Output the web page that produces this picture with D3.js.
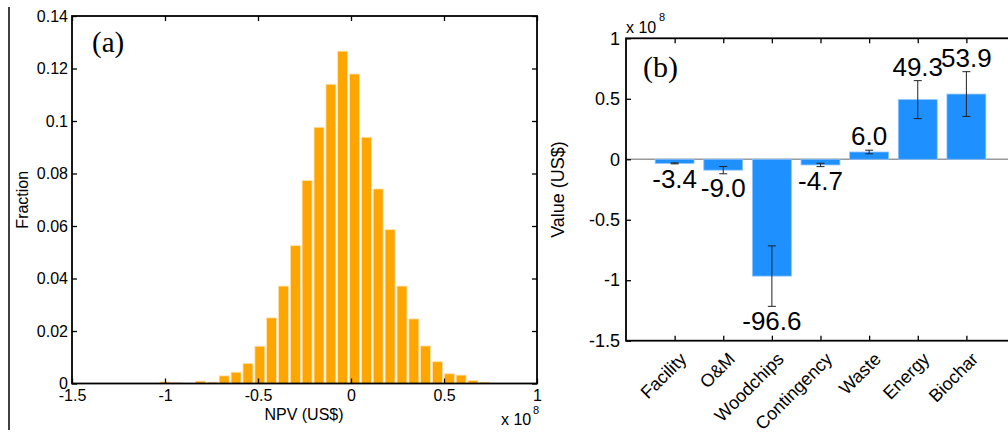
<!DOCTYPE html>
<html>
<head>
<meta charset="utf-8">
<script src="https://cdn.jsdelivr.net/npm/d3@7"></script>
<style>
  body { margin: 0; background: #fff; }
  svg { display: block; }
  text { font-family: "Liberation Sans", Arial, sans-serif; fill: #000; }
</style>
</head>
<body>
<svg id="chart" width="1008" height="434"></svg>
<script>
// (a) NPV histogram: bin centres in units of 1e8 US$, fraction of runs per bin
const npvBins = [-1.000, -0.936, -0.873, -0.809, -0.745, -0.682, -0.618, -0.554, -0.490, -0.427,
                 -0.363, -0.299, -0.236, -0.172, -0.108, -0.045, 0.019, 0.083, 0.146, 0.210,
                 0.274, 0.338, 0.401, 0.465, 0.529, 0.592, 0.656, 0.720];
const npvFraction = [0.0006, 0.0004, 0, 0.0009, 0.0005, 0.0029, 0.0043, 0.0076, 0.0142, 0.0250,
                     0.0371, 0.0525, 0.0773, 0.0976, 0.1140, 0.1266, 0.1179, 0.0938, 0.0741, 0.0586,
                     0.0371, 0.0246, 0.0143, 0.0083, 0.0037, 0.0032, 0.0011, 0.0005];
const binWidth = 0.0637;
const npvTicks = [-1.5, -1, -0.5, 0, 0.5, 1];
const fracTicks = [0, 0.02, 0.04, 0.06, 0.08, 0.1, 0.12, 0.14];

// (b) NPV components, millions of US$, with error bar half-lengths
const components = ['Facility', 'O&M', 'Woodchips', 'Contingency', 'Waste', 'Energy', 'Biochar'];
const compValues = [-3.4, -9.0, -96.6, -4.7, 6.0, 49.3, 53.9];
const compErrors = [0.4, 3.0, 25.0, 1.4, 1.5, 15.7, 18.5];
const valueTicks = [-1.5, -1, -0.5, 0, 0.5, 1];

const svg = d3.select('#chart');
svg.append('rect').attr('width', 1008).attr('height', 434).attr('fill', '#fff');

// stray panel separator on the far left
svg.append('line')
    .attr('x1', 9).attr('x2', 9).attr('y1', 7).attr('y2', 430)
    .attr('stroke', '#000').attr('stroke-width', 1.5);

const fmt = d => String(d);

function styleAxis(size) {
    return g => {
        g.select('.domain').remove();
        g.selectAll('line').attr('stroke', '#000').attr('stroke-width', 1.3);
        g.selectAll('text').attr('font-size', size).attr('font-family', '"Liberation Sans", Arial, sans-serif').attr('fill', '#000');
    };
}

// ---------- panel (a) ----------
const xa = d3.scaleLinear().domain([-1.5, 1]).range([72, 537]);
const ya = d3.scaleLinear().domain([0, 0.14]).range([383.5, 16]);
const ga = svg.append('g');

ga.append('g')
    .selectAll('rect')
    .data(npvBins.map((c, i) => ({ c, v: npvFraction[i] })).filter(d => d.v > 0))
    .join('rect')
    .attr('x', d => xa(d.c - binWidth * 0.42))
    .attr('width', d => xa(d.c + binWidth * 0.42) - xa(d.c - binWidth * 0.42))
    .attr('y', d => ya(d.v))
    .attr('height', d => ya(0) - ya(d.v))
    .attr('fill', '#FFA500')
    .attr('stroke', '#ffe2b0')
    .attr('stroke-width', 0.8);

ga.append('g').attr('transform', `translate(0,${ya(0)})`)
    .call(d3.axisBottom(xa).tickValues(npvTicks).tickFormat(fmt).tickSize(-5).tickPadding(6))
    .call(styleAxis(16));
ga.append('g').attr('transform', `translate(0,${ya(0.14)})`)
    .call(d3.axisTop(xa).tickValues(npvTicks).tickFormat('').tickSize(-5))
    .call(styleAxis(16));
ga.append('g').attr('transform', `translate(${xa(-1.5)},0)`)
    .call(d3.axisLeft(ya).tickValues(fracTicks).tickFormat(fmt).tickSize(-5).tickPadding(4))
    .call(styleAxis(16));
ga.append('g').attr('transform', `translate(${xa(1)},0)`)
    .call(d3.axisRight(ya).tickValues(fracTicks).tickFormat('').tickSize(-5))
    .call(styleAxis(16));

ga.append('rect')
    .attr('x', xa(-1.5)).attr('y', ya(0.14))
    .attr('width', xa(1) - xa(-1.5)).attr('height', ya(0) - ya(0.14))
    .attr('fill', 'none').attr('stroke', '#000').attr('stroke-width', 1.8);

ga.append('text')
    .attr('x', 304).attr('y', 420)
    .attr('text-anchor', 'middle').attr('font-size', 16)
    .text('NPV (US$)');
ga.append('text')
    .attr('transform', `translate(28,${(ya(0) + ya(0.14)) / 2}) rotate(-90)`)
    .attr('text-anchor', 'middle').attr('font-size', 16)
    .text('Fraction');
ga.append('text').attr('x', 501).attr('y', 425).attr('font-size', 16).text('x 10');
ga.append('text').attr('x', 533).attr('y', 414).attr('font-size', 11).text('8');
ga.append('text')
    .attr('x', 92).attr('y', 52)
    .attr('font-size', 29)
    .style('font-family', '"Liberation Serif", "Times New Roman", serif')
    .text('(a)');

// ---------- panel (b) ----------
const xb = d3.scaleLinear().domain([0, 8]).range([626, 1015]);
const yb = d3.scaleLinear().domain([-1.5, 1]).range([340.7, 38.3]);
const gb = svg.append('g');
const comp = components.map((name, i) => ({
    name, i: i + 1, v: compValues[i] / 100, e: compErrors[i] / 100, label: compValues[i].toFixed(1)
}));
const barHalf = 0.4;

gb.append('line')
    .attr('x1', xb(0)).attr('x2', 1008)
    .attr('y1', yb(0)).attr('y2', yb(0))
    .attr('stroke', '#999').attr('stroke-width', 1.5);

gb.append('g')
    .selectAll('rect')
    .data(comp)
    .join('rect')
    .attr('x', d => xb(d.i - barHalf))
    .attr('width', d => xb(d.i + barHalf) - xb(d.i - barHalf))
    .attr('y', d => yb(Math.max(0, d.v)))
    .attr('height', d => Math.abs(yb(d.v) - yb(0)))
    .attr('fill', '#1E90FF')
    .attr('stroke', '#8cc4ff')
    .attr('stroke-width', 0.8);

const eb = gb.append('g').attr('stroke', '#222').attr('stroke-width', 1);
eb.selectAll('line.stem')
    .data(comp)
    .join('line')
    .attr('class', 'stem')
    .attr('x1', d => xb(d.i)).attr('x2', d => xb(d.i))
    .attr('y1', d => yb(d.v - d.e)).attr('y2', d => yb(d.v + d.e));
eb.selectAll('line.capLo')
    .data(comp)
    .join('line')
    .attr('class', 'capLo')
    .attr('x1', d => xb(d.i) - 4).attr('x2', d => xb(d.i) + 4)
    .attr('y1', d => yb(d.v - d.e)).attr('y2', d => yb(d.v - d.e));
eb.selectAll('line.capHi')
    .data(comp)
    .join('line')
    .attr('class', 'capHi')
    .attr('x1', d => xb(d.i) - 4).attr('x2', d => xb(d.i) + 4)
    .attr('y1', d => yb(d.v + d.e)).attr('y2', d => yb(d.v + d.e));

gb.append('g')
    .selectAll('text')
    .data(comp)
    .join('text')
    .attr('x', d => xb(d.i))
    .attr('y', d => d.v >= 0 ? yb(d.v + d.e) - 5 : yb(d.v - d.e) + 5)
    .attr('dy', d => d.v >= 0 ? 0 : '0.72em')
    .attr('text-anchor', 'middle')
    .attr('font-size', 26)
    .text(d => d.label);

gb.append('g').attr('transform', `translate(0,${yb(-1.5)})`)
    .call(d3.axisBottom(xb).tickValues(comp.map(d => d.i)).tickFormat(i => components[i - 1]).tickSize(-5))
    .call(styleAxis(18))
    .call(g => g.selectAll('text')
        .attr('text-anchor', 'end')
        .attr('y', 0).attr('dy', '0.35em')
        .attr('transform', 'translate(8,15) rotate(-45)'));
gb.append('g').attr('transform', `translate(0,${yb(1)})`)
    .call(d3.axisTop(xb).tickValues(comp.map(d => d.i)).tickFormat('').tickSize(-5))
    .call(styleAxis(18));
gb.append('g').attr('transform', `translate(${xb(0)},0)`)
    .call(d3.axisLeft(yb).tickValues(valueTicks).tickFormat(fmt).tickSize(-5).tickPadding(6))
    .call(styleAxis(18));

gb.append('rect')
    .attr('x', xb(0)).attr('y', yb(1))
    .attr('width', xb(8) - xb(0)).attr('height', yb(-1.5) - yb(1))
    .attr('fill', 'none').attr('stroke', '#000').attr('stroke-width', 1.8);

gb.append('text')
    .attr('transform', `translate(564,${(yb(1) + yb(-1.5)) / 2}) rotate(-90)`)
    .attr('text-anchor', 'middle').attr('font-size', 18)
    .text('Value (US$)');
gb.append('text').attr('x', 626).attr('y', 33).attr('font-size', 16).text('x 10');
gb.append('text').attr('x', 659).attr('y', 21).attr('font-size', 11).text('8');
gb.append('text')
    .attr('x', 643).attr('y', 77)
    .attr('font-size', 30)
    .style('font-family', '"Liberation Serif", "Times New Roman", serif')
    .text('(b)');
</script>
</body>
</html>
